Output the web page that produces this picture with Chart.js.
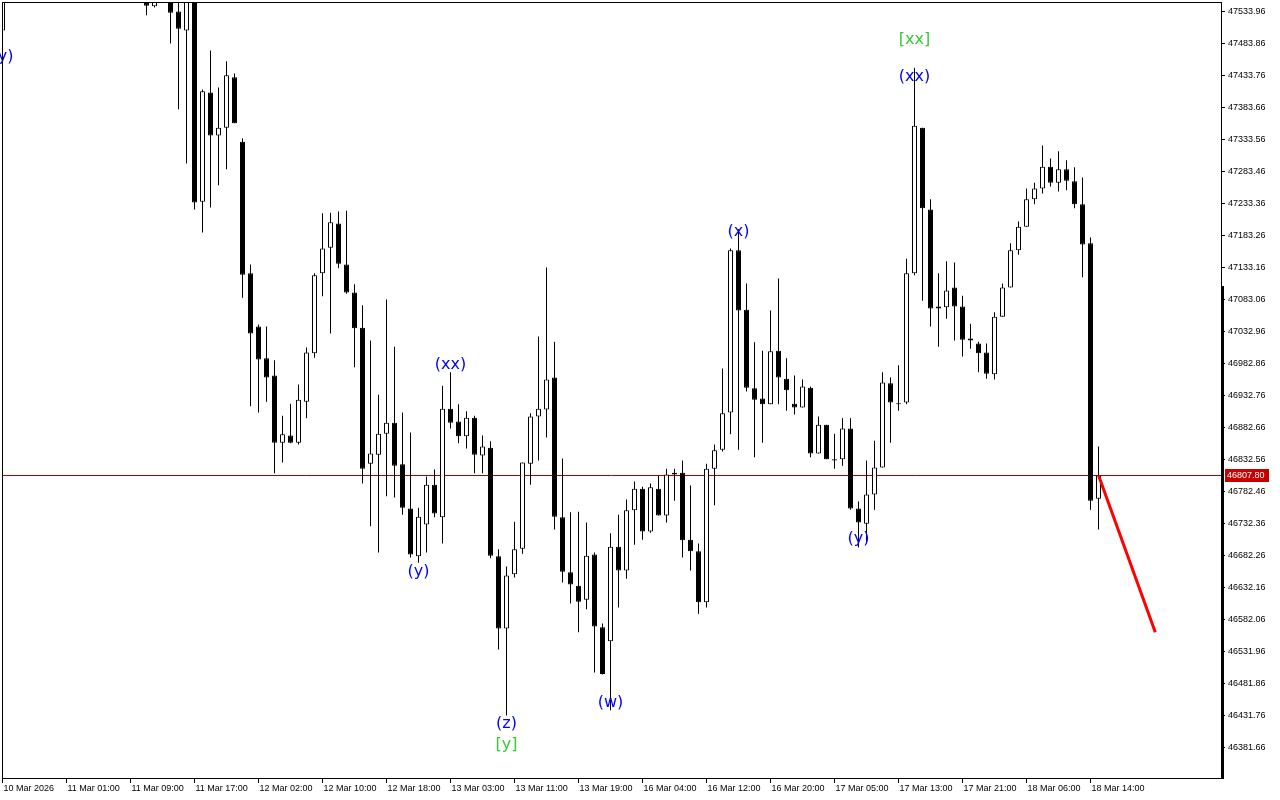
<!DOCTYPE html>
<html>
<head>
<meta charset="utf-8">
<title>US30 H1</title>
<script src="https://cdn.jsdelivr.net/npm/chart.js@4.4.1/dist/chart.umd.min.js"></script>
<style>
  html, body { margin: 0; padding: 0; background: #fff; }
  #wrap { width: 1280px; height: 800px; }
</style>
</head>
<body>
<div id="wrap"><canvas id="chart"></canvas></div>
<script>
// hourly candles, index 0 = first bar on screen
const tickCandles = [0, 8, 16, 24, 32, 40, 48, 56, 64, 72, 80, 88, 96, 104, 112, 120, 128, 136];
const tickLabels = ['10 Mar 2026', '11 Mar 01:00', '11 Mar 09:00', '11 Mar 17:00', '12 Mar 02:00', '12 Mar 10:00',
  '12 Mar 18:00', '13 Mar 03:00', '13 Mar 11:00', '13 Mar 19:00', '16 Mar 04:00', '16 Mar 12:00',
  '16 Mar 20:00', '17 Mar 05:00', '17 Mar 13:00', '17 Mar 21:00', '18 Mar 06:00', '18 Mar 14:00'];
const priceTicks = [47533.96, 47483.86, 47433.76, 47383.66, 47333.56, 47283.46, 47233.36, 47183.26,
  47133.16, 47083.06, 47032.96, 46982.86, 46932.76, 46882.66, 46832.56, 46782.46, 46732.36,
  46682.26, 46632.16, 46582.06, 46531.96, 46481.86, 46431.76, 46381.66];

const opens = [
  47504, 47575, 47598, 47630, 47655, 47672, 47662, 47645, 47670, 47698,
  47688, 47660, 47648, 47622, 47640, 47615, 47598, 47590, 47554, 47542,
  47560, 47559, 47534, 47504, 47557, 47236, 47407, 47340, 47352, 47431,
  47330, 47124, 47041, 46991, 46964, 46859, 46870, 46859, 46923, 46999,
  47124, 47164, 47202, 47138, 47094, 47039, 46826, 46840, 46873, 46890,
  46825, 46756, 46681, 46731, 46793, 46742, 46912, 46892, 46869, 46898,
  46839, 46851, 46681, 46568, 46653, 46693, 46826, 46900, 46911, 46961,
  46742, 46656, 46635, 46613, 46684, 46570, 46548, 46696, 46659, 46753,
  46787, 46720, 46787, 46745, 46809, 46812, 46707, 46689, 46609, 46818,
  46848, 46906, 47160, 47067, 46944, 46928, 46919, 47003, 46959, 46920,
  46914, 46945, 46842, 46887, 46833, 46833, 46881, 46756, 46732, 46778,
  46820, 46952, 46920, 46922, 47124, 47352, 47224, 47069, 47071, 47102,
  47072, 47022, 47014, 47000, 46966, 47056, 47102, 47160, 47197, 47240,
  47257, 47291, 47266, 47287, 47268, 47232, 47171, 46771];
const highs = [
  47575, 47610, 47640, 47668, 47690, 47705, 47690, 47680, 47712, 47725,
  47702, 47685, 47668, 47650, 47662, 47632, 47620, 47612, 47561, 47556,
  47590, 47567, 47559, 47564, 47564, 47412, 47473, 47415, 47456, 47437,
  47335, 47138, 47044, 47041, 46988, 46901, 46920, 46950, 47008, 47124,
  47218, 47219, 47221, 47222, 47107, 47074, 47019, 46934, 47083, 47009,
  46906, 46875, 46757, 46806, 46817, 46948, 46969, 46919, 46908, 46901,
  46870, 46861, 46692, 46665, 46735, 46828, 46905, 47025, 47133, 47017,
  46834, 46750, 46751, 46734, 46687, 46576, 46717, 46746, 46770, 46798,
  46790, 46795, 46807, 46818, 46818, 46831, 46792, 46701, 46826, 46856,
  46975, 47163, 47193, 47108, 47016, 47003, 47066, 47116, 46991, 46964,
  46958, 46947, 46900, 46887, 46873, 46897, 46897, 46767, 46831, 46862,
  46969, 46961, 46980, 47147, 47446, 47352, 47240, 47124, 47143, 47141,
  47089, 47045, 47017, 47014, 47063, 47108, 47171, 47205, 47257, 47266,
  47324, 47304, 47315, 47301, 47290, 47274, 47180, 46853];
const lows = [
  47502, 47552, 47585, 47612, 47640, 47650, 47632, 47628, 47660, 47675,
  47650, 47635, 47612, 47600, 47608, 47585, 47570, 47560, 47528, 47540,
  47552, 47484, 47381, 47296, 47224, 47188, 47227, 47262, 47287, 47359,
  47086, 46916, 46906, 46923, 46811, 46828, 46858, 46856, 46897, 46992,
  47088, 47030, 47132, 47092, 46977, 46795, 46728, 46687, 46775, 46773,
  46746, 46679, 46671, 46687, 46742, 46701, 46881, 46858, 46850, 46811,
  46811, 46678, 46535, 46432, 46648, 46685, 46793, 46831, 46867, 46723,
  46640, 46607, 46562, 46598, 46499, 46496, 46440, 46601, 46646, 46699,
  46707, 46718, 46745, 46734, 46768, 46679, 46659, 46591, 46601, 46761,
  46845, 46872, 46848, 46939, 46836, 46859, 46919, 46919, 46909, 46903,
  46914, 46836, 46842, 46833, 46818, 46823, 46754, 46695, 46701, 46754,
  46820, 46859, 46909, 46919, 47121, 47081, 47041, 47009, 47053, 47019,
  46994, 47006, 46969, 46959, 46958, 47056, 47102, 47153, 47197, 47232,
  47249, 47260, 47252, 47254, 47226, 47118, 46754, 46723];
const closes = [
  47567, 47598, 47630, 47655, 47672, 47662, 47645, 47670, 47698, 47688,
  47660, 47648, 47622, 47640, 47615, 47598, 47590, 47575, 47543, 47550,
  47578, 47532, 47507, 47556, 47235, 47409, 47340, 47352, 47434, 47359,
  47122, 47030, 46989, 46961, 46859, 46872, 46859, 46926, 47000, 47121,
  47163, 47204, 47139, 47094, 47038, 46818, 46842, 46873, 46890, 46823,
  46757, 46684, 46743, 46793, 46748, 46912, 46890, 46869, 46898, 46840,
  46853, 46682, 46568, 46651, 46692, 46828, 46900, 46912, 46958, 46743,
  46657, 46637, 46610, 46682, 46571, 46497, 46696, 46659, 46753, 46787,
  46720, 46789, 46745, 46809, 46812, 46706, 46689, 46609, 46818, 46847,
  46905, 47160, 47066, 46945, 46926, 46919, 47002, 46961, 46941, 46914,
  46947, 46842, 46887, 46833, 46831, 46881, 46756, 46734, 46778, 46820,
  46953, 46922, 46919, 47124, 47355, 47226, 47069, 47072, 47097, 47072,
  47020, 47019, 46999, 46967, 47056, 47102, 47160, 47197, 47240, 47257,
  47291, 47266, 47287, 47269, 47232, 47169, 46768, 46807.80];

const lastPrice = 46807.80;
const rangeTop = 47104;            // top of the thick marker on the price scale
const yMin = 46334, yMax = 47548.8;

// red projection line
const forecastIdx = [137, 144.1];
const forecastPrice = [46807.80, 46562];

// wave labels
const waveText  = ['(y)', '(xx)', '(y)', '(z)', '[y]', '(w)', '(x)', '(y)', '(xx)', '[xx]'];
const waveIdx   = [0, 56, 52, 63, 63, 76, 92, 107, 114, 114];
const wavePrice = [47463, 46981, 46657, 46419, 46386, 46452, 47189, 46709, 47432, 47490];
const waveColor = ['#0000ff', '#0000ff', '#0000ff', '#0000ff', '#32cd32', '#0000ff', '#0000ff', '#0000ff', '#0000ff', '#32cd32'];

const axisFont = { family: 'Liberation Sans', size: 9 };

const bodies = opens.map((o, i) => ({ x: i, y: [o, closes[i]] }));
const wicks = lows.map((l, i) => ({ x: i, y: [l, highs[i]] }));
const bodyColors = opens.map((o, i) => closes[i] >= o ? '#ffffff' : '#000000');

const overlay = {
  id: 'overlay',
  beforeDatasetsDraw(chart) {
    const { ctx, chartArea: a, scales: { y } } = chart;
    const py = Math.floor(y.getPixelForValue(lastPrice)) + 0.5;
    ctx.save();
    ctx.strokeStyle = '#b00000';
    ctx.lineWidth = 1;
    ctx.beginPath();
    ctx.moveTo(a.left, py);
    ctx.lineTo(a.right, py);
    ctx.stroke();
    ctx.restore();
  },
  afterDatasetsDraw(chart) {
    const { ctx, scales: { x, y } } = chart;
    ctx.save();
    ctx.font = '16px "DejaVu Sans"';
    ctx.textAlign = 'center';
    ctx.textBaseline = 'middle';
    waveText.forEach((t, i) => {
      ctx.fillStyle = waveColor[i];
      ctx.fillText(t, x.getPixelForValue(waveIdx[i]), y.getPixelForValue(wavePrice[i]));
    });
    ctx.restore();
  },
  afterDraw(chart) {
    const { ctx, chartArea: a, scales: { y } } = chart;
    ctx.save();
    // frame
    ctx.strokeStyle = '#000';
    ctx.lineWidth = 1;
    ctx.strokeRect(a.left + 0.5, a.top + 0.5, a.right - a.left, a.bottom - a.top);
    // thick marker on the price scale
    const yt = Math.round(y.getPixelForValue(rangeTop));
    ctx.fillStyle = '#000';
    ctx.fillRect(a.right, yt, 3, a.bottom - yt + 1);
    // current price box
    const py = Math.floor(y.getPixelForValue(lastPrice)) + 0.5;
    ctx.fillStyle = '#c80000';
    ctx.fillRect(a.right + 4, py - 6.5, 44, 13);
    ctx.fillStyle = '#fff';
    ctx.font = '9px "Liberation Sans"';
    ctx.textAlign = 'left';
    ctx.textBaseline = 'middle';
    ctx.fillText(lastPrice.toFixed(2), a.right + 6, py + 0.5);
    ctx.restore();
  }
};

new Chart(document.getElementById('chart'), {
  type: 'bar',
  data: {
    datasets: [
      {
        type: 'line',
        data: forecastIdx.map((v, i) => ({ x: v, y: forecastPrice[i] })),
        borderColor: '#ff0000',
        borderWidth: 3,
        pointRadius: 0,
        order: 0
      },
      {
        data: bodies,
        backgroundColor: bodyColors,
        borderColor: '#000',
        borderWidth: 1,
        borderSkipped: false,
        barThickness: 5,
        minBarLength: 1,
        inflateAmount: 0,
        grouped: false,
        order: 1
      },
      {
        data: wicks,
        backgroundColor: '#000',
        borderWidth: 0,
        barThickness: 1,
        inflateAmount: 0,
        grouped: false,
        order: 2
      }
    ]
  },
  options: {
    responsive: true,
    maintainAspectRatio: false,
    animation: false,
    events: [],
    layout: { padding: { left: 2, top: 2, right: 0, bottom: 0 } },
    plugins: { legend: { display: false }, tooltip: { enabled: false } },
    scales: {
      x: {
        type: 'linear',
        position: 'bottom',
        min: -0.0625,
        max: 152.3125,
        offset: false,
        afterBuildTicks: (s) => { s.ticks = tickCandles.map(v => ({ value: v })); },
        afterFit: (s) => { s.height = 22; s.paddingLeft = 0; s.paddingRight = 0; },
        grid: { offset: false, drawOnChartArea: false, drawTicks: true, tickLength: 5, color: '#000' },
        border: { display: true, color: '#000' },
        ticks: {
          autoSkip: false,
          maxRotation: 0,
          align: 'start',
          labelOffset: 1,
          padding: 0,
          color: '#000',
          font: axisFont,
          callback: (v) => tickLabels[tickCandles.indexOf(v)]
        }
      },
      y: {
        type: 'linear',
        position: 'right',
        min: yMin,
        max: yMax,
        afterBuildTicks: (s) => { s.ticks = priceTicks.map(v => ({ value: v })); },
        afterFit: (s) => { s.width = 59; s.paddingTop = 0; s.paddingBottom = 0; },
        grid: { drawOnChartArea: false, drawTicks: true, tickLength: 4, color: '#000' },
        border: { display: true, color: '#000' },
        ticks: {
          padding: 3,
          color: '#000',
          font: axisFont,
          callback: (v) => v.toFixed(2)
        }
      }
    }
  },
  plugins: [overlay]
});
</script>
</body>
</html>
